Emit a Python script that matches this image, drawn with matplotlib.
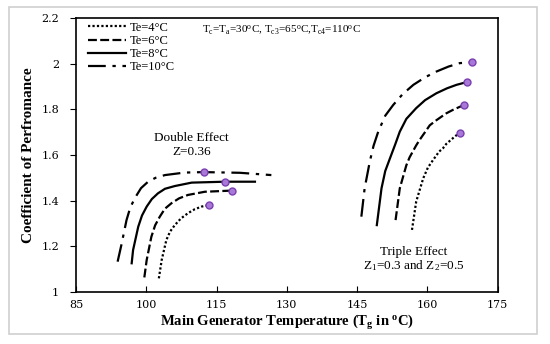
import matplotlib.pyplot as plt
from matplotlib.patches import Rectangle

plt.rcParams['mathtext.fontset'] = 'custom'
plt.rcParams['mathtext.rm'] = 'Liberation Serif'
plt.rcParams['mathtext.it'] = 'Liberation Serif:italic'
plt.rcParams['mathtext.bf'] = 'Liberation Serif:bold'

# Double effect (Z=0.36)
d_t4 = [102.7, 103.3, 104.3, 105.1, 106.1, 107.4, 108.9, 110.3, 111.8, 113.4]
d_c4 = [1.060, 1.140, 1.228, 1.265, 1.293, 1.322, 1.345, 1.362, 1.374, 1.381]
d_t6 = [99.6, 100.1, 101.1, 101.9, 102.9, 104.0, 105.4, 107.0, 108.9, 112.5, 118.2]
d_c6 = [1.064, 1.140, 1.242, 1.292, 1.330, 1.365, 1.389, 1.410, 1.425, 1.439, 1.444]
d_t8 = [96.9, 97.2, 98.3, 99.1, 100.1, 101.2, 102.5, 104.0, 106.1, 109.7, 116.8, 123.2]
d_c8 = [1.126, 1.184, 1.286, 1.335, 1.374, 1.407, 1.432, 1.452, 1.464, 1.479, 1.483, 1.483]
d_t10 = [93.9, 94.7, 95.8, 96.6, 97.6, 98.9, 100.4, 102.0, 104.0, 108.2, 112.3, 120.0, 126.7]
d_c10 = [1.133, 1.206, 1.315, 1.370, 1.412, 1.455, 1.483, 1.500, 1.512, 1.523, 1.525, 1.522, 1.512]

# Triple effect (Z1=0.3, Z2=0.5)
t_t4 = [156.7, 157.6, 159.1, 160.1, 161.2, 162.5, 163.3, 164.0, 165.8, 166.9]
t_c4 = [1.272, 1.396, 1.498, 1.545, 1.578, 1.615, 1.629, 1.648, 1.680, 1.698]
t_t6 = [153.2, 154.1, 155.5, 156.2, 157.6, 158.3, 160.5, 161.9, 164.0, 165.4, 167.8]
t_c6 = [1.315, 1.454, 1.555, 1.590, 1.642, 1.665, 1.730, 1.752, 1.782, 1.797, 1.819]
t_t8 = [149.2, 150.2, 151.0, 152.0, 153.1, 154.1, 155.5, 157.6, 159.5, 161.9, 164.2, 166.2, 168.4]
t_c8 = [1.293, 1.454, 1.530, 1.585, 1.645, 1.702, 1.758, 1.805, 1.840, 1.870, 1.892, 1.907, 1.919]
t_t10 = [145.9, 146.6, 147.7, 148.5, 149.5, 151.0, 152.7, 154.7, 157.0, 159.5, 161.9, 164.5, 166.9, 169.6]
t_c10 = [1.330, 1.454, 1.571, 1.640, 1.702, 1.772, 1.819, 1.866, 1.907, 1.940, 1.965, 1.987, 2.002, 2.006]

# marked points
mark_t = [113.4, 118.2, 116.8, 112.3, 166.9, 167.8, 168.4, 169.6]
mark_c = [1.381, 1.444, 1.483, 1.525, 1.698, 1.819, 1.919, 2.006]

labels = ['Te=4°C', 'Te=6°C', 'Te=8°C', 'Te=10°C']
styles = [(0, (1, 1)), (0, (4, 1.5)), '-', (0, (8, 3, 1.5, 3))]

fig = plt.figure(figsize=(5.5, 3.44), dpi=100)
fig.patches.append(Rectangle((9 / 550, 10 / 344), 528 / 550, 327 / 344, transform=fig.transFigure,
                             fill=False, edgecolor='#cfcfcf', linewidth=1.2))
ax = fig.add_axes([0.138, 0.151, 0.767, 0.797])

double = [(d_t4, d_c4), (d_t6, d_c6), (d_t8, d_c8), (d_t10, d_c10)]
triple = [(t_t4, t_c4), (t_t6, t_c6), (t_t8, t_c8), (t_t10, t_c10)]
for i in range(4):
    ax.plot(double[i][0], double[i][1], color='black', linestyle=styles[i], linewidth=1.6,
            label=labels[i])
    ax.plot(triple[i][0], triple[i][1], color='black', linestyle=styles[i], linewidth=1.6)

ax.plot(mark_t, mark_c, linestyle='none', marker='o', markersize=5,
        markerfacecolor='#a878d8', markeredgecolor='#7a3fb0', markeredgewidth=1)

ax.set_xlim(85, 175)
ax.set_ylim(1, 2.2)
ax.set_xticks([85, 100, 115, 130, 145, 160, 175])
ax.set_yticks([1, 1.2, 1.4, 1.6, 1.8, 2, 2.2])
ax.set_yticklabels(['1', '1.2', '1.4', '1.6', '1.8', '2', '2.2'])
ax.tick_params(axis='x', direction='in', length=4, pad=6)
ax.tick_params(axis='y', direction='out', length=4, pad=8)
for lab in ax.get_xticklabels() + ax.get_yticklabels():
    lab.set_family('DejaVu Serif')
    lab.set_fontsize(8)
for s in ax.spines.values():
    s.set_linewidth(1.2)

ax.set_xlabel('Main Generator Temperature (T$_{\\mathbf{g}}$ in $^{\\mathbf{o}}$C)', fontsize=10.5,
              fontweight='bold', family='Liberation Serif', labelpad=2)
ax.set_ylabel('Coefficient of Perfromance', fontsize=11, fontweight='bold',
              family='Liberation Serif', labelpad=5)

leg = ax.legend(loc='upper left', bbox_to_anchor=(0.02, 1.0), frameon=False, handlelength=3.0,
                handletextpad=0.3, labelspacing=0.1, borderaxespad=0.1, borderpad=0.2,
                prop={'family': 'Liberation Serif', 'size': 9})

ax.text(0.30, 0.955, 'T$_{\\rm c}$=T$_{\\rm a}$=30$^{\\rm o}$C, T$_{\\rm c3}$=65$^{\\rm o}$C,T$_{\\rm c4}$=110$^{\\rm o}$C',
        transform=ax.transAxes, fontsize=8, family='Liberation Serif', va='center')
ax.text(109.7, 1.675, 'Double Effect', ha='center', va='center', fontsize=9.5,
        family='Liberation Serif')
ax.text(109.7, 1.613, 'Z=0.36', ha='center', va='center', fontsize=9.5, family='Liberation Serif')
ax.text(157.1, 1.175, 'Triple Effect', ha='center', va='center', fontsize=9.5,
        family='Liberation Serif')
ax.text(157.1, 1.115, 'Z$_{\\rm 1}$=0.3 and Z$_{\\rm 2}$=0.5', ha='center', va='center',
        fontsize=9.5, family='Liberation Serif')

fig.savefig('out.png', dpi=100)
